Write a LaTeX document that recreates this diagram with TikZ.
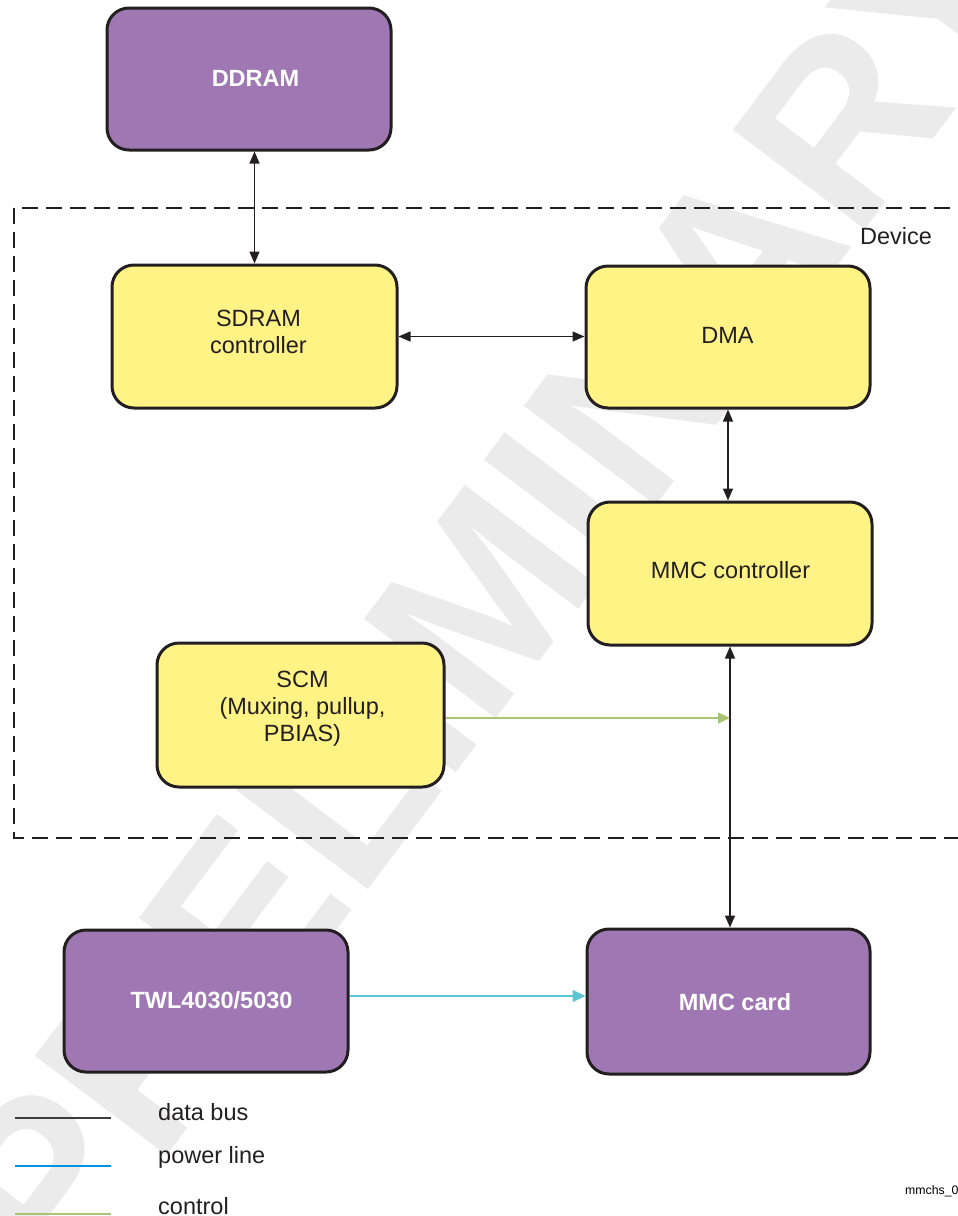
\documentclass[tikz,border=0pt]{standalone}
\usepackage{fontspec}
\setmainfont{Liberation Sans}
\usetikzlibrary{arrows.meta,calc}
\definecolor{boxpurple}{RGB}{158,119,179}
\definecolor{boxyellow}{RGB}{255,243,133}
\definecolor{edgecol}{RGB}{35,31,32}
\definecolor{ctrlgreen}{RGB}{169,196,118}
\definecolor{pwrcyan}{RGB}{91,198,210}
\definecolor{legblue}{RGB}{0,150,220}
\definecolor{wmgray}{RGB}{235,235,235}
\definecolor{databus}{RGB}{60,60,60}
\tikzset{
  blk/.style={draw=edgecol, line width=3pt, rounded corners=22pt, minimum width=284pt, minimum height=142pt, inner sep=0pt},
  purplebox/.style={blk, fill=boxpurple},
  yellowbox/.style={blk, fill=boxyellow},
  ptext/.style={text=white, font=\fontsize{23.5}{27}\selectfont\bfseries, align=center, inner sep=0pt},
  ytext/.style={text=edgecol, font=\fontsize{23.5}{27}\selectfont, align=center, inner sep=0pt},
  bus/.style={draw=edgecol, line width=1.3pt, {Triangle[length=12pt,width=10pt]}-{Triangle[length=12pt,width=10pt]}},
  ctrl/.style={draw=ctrlgreen, line width=1.4pt, -{Triangle[length=12pt,width=11pt]}},
  pwr/.style={draw=pwrcyan, line width=1.5pt, -{Triangle[length=13pt,width=12pt]}},
  lbl/.style={text=edgecol, font=\fontsize{23.5}{27}\selectfont, inner sep=0pt},
  devbox/.style={draw=edgecol, line width=2.2pt, dash pattern=on 16pt off 8pt},
}
\begin{document}
\begin{tikzpicture}[x=1pt, y=-1pt]
\useasboundingbox (0,0) rectangle (958,1216);
\clip (0,0) rectangle (958,1216);
% watermark
\node[text=wmgray, rotate=53, font=\fontsize{240}{240}\selectfont\bfseries, inner sep=0pt] (wm) at (490,590) {PRELIMINARY};
% device boundary
\draw[devbox] (14,208) rectangle (980,838);
\node[lbl, anchor=base] (dev) at (896,244) {Device};
% blocks
\node[purplebox] (ddram) at (249,79) {};
\node[yellowbox, minimum width=285pt, minimum height=143pt] (sdram) at (254.5,336.5) {};
\node[yellowbox] (dma) at (728,337) {};
\node[yellowbox, minimum height=143pt] (mmcc) at (730,573.5) {};
\node[yellowbox, minimum width=287pt, minimum height=144pt] (scm) at (300.5,715) {};
\node[purplebox] (twl) at (206,1001) {};
\node[purplebox, minimum width=283pt, minimum height=145pt] (card) at (728.5,1001.5) {};
% block texts
\node[ptext] (ddramt) at (255.5,78) {DDRAM};
\node[ytext] (sdramt) at (258.5,331.5) {SDRAM\\controller};
\node[ytext] (dmat) at (727.5,335) {DMA};
\node[ytext] (mmcct) at (730.5,570) {MMC controller};
\node[ytext] (scmt) at (302.5,708.5) {SCM\\(Muxing, pullup,\\PBIAS)};
\node[ptext] (twlt) at (211.5,1000) {TWL4030/5030};
\node[ptext] (cardt) at (735,1002) {MMC card};
% connectors
\draw[bus] (ddram.south -| sdram.north) -- (sdram.north);
\draw[bus] (sdram.east) -- (sdram.east -| dma.west);
\draw[bus] (dma.south) -- (dma.south |- mmcc.north);
\draw[bus] (mmcc.south) -- (mmcc.south |- card.north);
\coordinate (jn) at ($(scm.east -| mmcc.south)+(0,3)$);
\draw[ctrl] ($(scm.east)+(0,3)$) -- (jn);
\coordinate (pw) at ($(twl.east -| card.west)+(0,-5)$);
\draw[pwr] ($(twl.east)+(0,-5)$) -- (pw);
% legend
\coordinate (l1a) at (15,1118); \coordinate (l1b) at (111,1118);
\coordinate (l2a) at (15,1166); \coordinate (l2b) at (111,1166);
\coordinate (l3a) at (15,1214); \coordinate (l3b) at (111,1214);
\draw[databus, line width=1.2pt] (l1a) -- (l1b);
\draw[legblue, line width=1.2pt] (l2a) -- (l2b);
\draw[ctrlgreen, line width=1.6pt] (l3a) -- (l3b);
\node[lbl, anchor=base west] (t1) at (158,1120) {data bus};
\node[lbl, anchor=base west] (t2) at (158,1163) {power line};
\node[lbl, anchor=base west] (t3) at (158,1214) {control};
\node[text=black, font=\fontsize{12.3}{14}\selectfont, anchor=base west, inner sep=0pt] (fig) at (905,1194) {mmchs\_001};
\end{tikzpicture}
\end{document}
